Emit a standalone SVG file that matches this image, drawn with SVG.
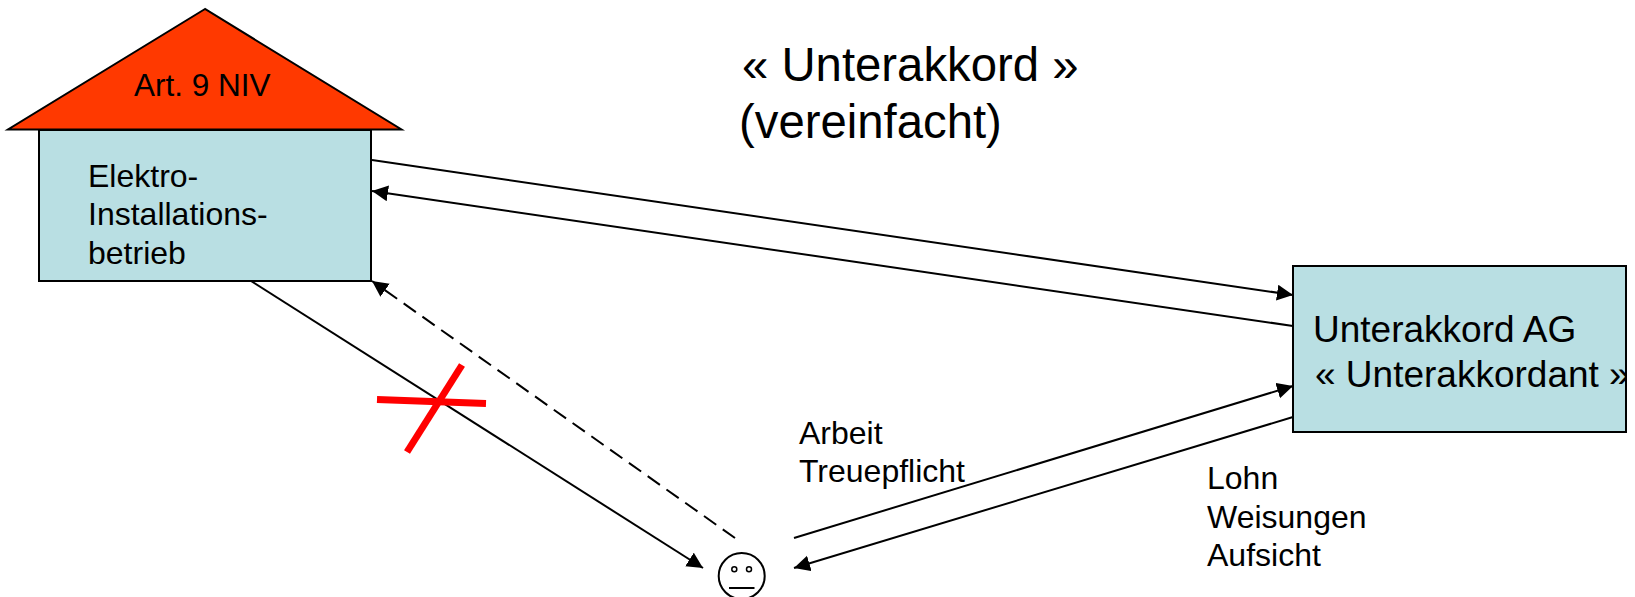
<svg xmlns="http://www.w3.org/2000/svg" width="1635" height="597" viewBox="0 0 1635 597">
<style>
text{font-family:"Liberation Sans",Arial,sans-serif;fill:#000}
.m{font-size:32px}
.b{font-size:37px}
.t{font-size:47.300px}
.box{fill:#b9dfe3;stroke:#000;stroke-width:2}
.c{stroke:#000;stroke-width:2;fill:none}
</style>
<defs>
<marker id="a" markerUnits="userSpaceOnUse" markerWidth="18" markerHeight="17" refX="16" refY="8" orient="auto"><path d="M0 0L16 8L0 16Z" fill="#000"/></marker>
<clipPath id="boxclip"><rect x="1293" y="266" width="333" height="166"/></clipPath>
</defs>
<rect width="1635" height="597" fill="#fff"/>
<g id="house">
<polygon points="205,9 8,129.500 401.500,129.500" fill="#ff3900" stroke="#000" stroke-width="2"/>
<text class="m" x="134" y="96" style="font-size:31.500px">Art. 9 NIV</text>
</g>
<g id="betrieb">
<rect class="box" x="39" y="130" width="332" height="151"/>
<text class="m" x="88" y="186.500">Elektro-</text>
<text class="m" x="88" y="225">Installations-</text>
<text class="m" x="88" y="263.500">betrieb</text>
</g>
<g id="unterakkord">
<rect class="box" x="1293" y="266" width="333" height="166"/>
<g clip-path="url(#boxclip)">
<text class="b" x="1313" y="342">Unterakkord AG</text>
<text class="b" x="1315" y="386.500">« Unterakkordant »</text>
</g>
<path d="M1626 266V432" stroke="#000" stroke-width="2"/>
</g>
<g id="title">
<text class="t" x="742" y="81">« Unterakkord »</text>
<text class="t" x="739" y="138">(vereinfacht)</text>
</g>
<g id="person" fill="none" stroke="#000">
<circle cx="741.700" cy="576" r="23" stroke-width="2"/>
<circle cx="734.300" cy="569.300" r="2.500" stroke-width="1.500"/>
<circle cx="749" cy="569.300" r="2.500" stroke-width="1.500"/>
<path d="M729 588H754.500" stroke-width="2"/>
</g>
<g id="connectors">
<path class="c" d="M372 160L1293 295" marker-end="url(#a)"/>
<path class="c" d="M1293 326L372 191" marker-end="url(#a)"/>
<path class="c" d="M251 281L703 568" marker-end="url(#a)"/>
<path class="c" d="M735 538L372 281" stroke-dasharray="15 8" marker-end="url(#a)"/>
<path class="c" d="M794 538L1293 386" marker-end="url(#a)"/>
<path class="c" d="M1293 417L794 568" marker-end="url(#a)"/>
</g>
<g id="cross" stroke="#f00" stroke-width="7" fill="none">
<path d="M377 399.500L486 403.500"/>
<path d="M462 365L407 452"/>
</g>
<g id="labels">
<text class="m" x="799" y="444">Arbeit</text>
<text class="m" x="799" y="482">Treuepflicht</text>
<text class="m" x="1207" y="489">Lohn</text>
<text class="m" x="1207" y="528">Weisungen</text>
<text class="m" x="1207" y="566">Aufsicht</text>
</g>
</svg>
